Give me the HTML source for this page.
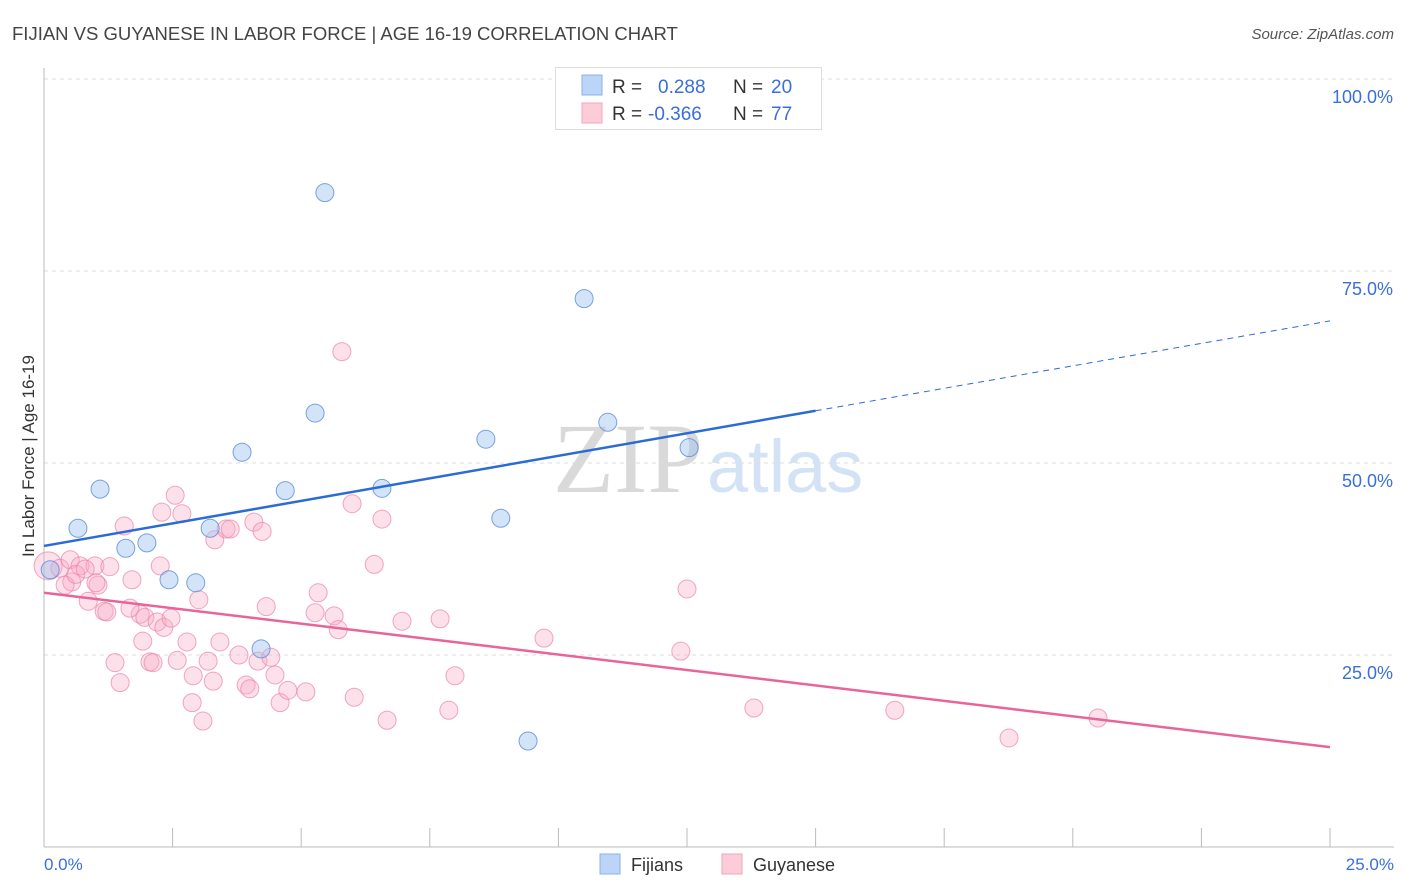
<!DOCTYPE html>
<html><head><meta charset="utf-8">
<style>
body{margin:0;background:#fff;font-family:"Liberation Sans",sans-serif;}
svg{display:block}
</style></head>
<body>
<svg id="chart" width="1406" height="892" xmlns="http://www.w3.org/2000/svg">
<text x="12" y="40" font-size="18.5" fill="#444">FIJIAN VS GUYANESE IN LABOR FORCE | AGE 16-19 CORRELATION CHART</text>
<text x="1394" y="39" font-size="15" font-style="italic" fill="#555" text-anchor="end">Source: ZipAtlas.com</text>
<text x="553" y="492" font-size="100" fill="#ddd" font-family="Liberation Serif,serif"><tspan fill="#d9d9d9">ZIP</tspan><tspan fill="#d3e2f5" font-family="Liberation Sans,sans-serif" font-size="74" dx="4">atlas</tspan></text>
<g id="grid"></g>
<g id="axes"></g>
<g id="marks"></g>
<text transform="translate(34,456) rotate(-90)" font-size="17" fill="#333" text-anchor="middle">In Labor Force | Age 16-19</text>
<text x="44" y="870" font-size="17" fill="#3a6fd8">0.0%</text>
<text x="1394" y="870" font-size="17" fill="#3a6fd8" text-anchor="end">25.0%</text>
<g>
<rect x="555.5" y="67.5" width="266" height="62" fill="#fff" stroke="#ddd"/>
<rect x="582" y="75" width="20" height="20" fill="#bcd4f6" stroke="#8ab0ea"/>
<rect x="582" y="103" width="20" height="20" fill="#fcccd9" stroke="#f2a5bc"/>
<text x="612" y="93" font-size="19" fill="#333">R = </text><text x="658" y="93" font-size="19" fill="#3a6fd8">0.288</text>
<text x="733" y="93" font-size="19" fill="#333">N = </text><text x="771" y="93" font-size="19" fill="#3a6fd8">20</text>
<text x="612" y="120" font-size="19" fill="#333">R = </text><text x="648" y="120" font-size="19" fill="#3a6fd8">-0.366</text>
<text x="733" y="120" font-size="19" fill="#333">N = </text><text x="771" y="120" font-size="19" fill="#3a6fd8">77</text>
</g>
<g>
<rect x="600" y="854" width="20" height="20" fill="#bcd4f6" stroke="#8ab0ea"/>
<text x="631" y="871" font-size="18" fill="#333">Fijians</text>
<rect x="722" y="854" width="20" height="20" fill="#fcccd9" stroke="#f2a5bc"/>
<text x="753" y="871" font-size="18" fill="#333">Guyanese</text>
</g>
</svg>
<script>
const yTicks=[25,50,75,100];
const yTickLabels=["25.0%","50.0%","75.0%","100.0%"];
const fijX=[0.12,0.66,1.09,1.59,2.0,2.43,2.95,3.23,3.85,4.22,4.69,5.27,5.46,6.57,8.59,8.88,9.41,10.5,10.96,12.54];
const fijY=[36.1,41.5,46.6,38.9,39.6,34.8,34.4,41.5,51.4,25.8,46.4,56.5,85.2,46.7,53.1,42.8,13.8,71.4,55.3,52.0];
const guyX=[0.08,0.31,0.51,0.54,0.70,0.99,0.41,1.05,0.86,1.17,1.22,1.56,1.71,1.87,1.67,1.96,1.92,2.2,2.33,2.47,1.38,1.48,2.06,2.12,2.55,2.29,2.68,2.78,2.59,2.9,3.01,2.88,3.09,3.19,3.29,3.32,3.42,3.54,3.62,4.08,4.24,3.79,3.93,4.0,4.16,4.32,4.41,4.49,4.59,4.74,5.09,5.33,5.27,5.64,5.72,5.79,5.99,6.03,6.57,6.42,6.67,6.96,7.70,7.87,7.99,9.72,12.38,12.5,13.8,16.54,18.76,20.49,2.26,1.28,1.01,0.62,0.8];
const guyY=[36.6,36.3,37.4,34.5,36.6,36.6,34.1,34.1,32.0,30.7,30.6,41.8,34.8,30.3,31.1,29.9,26.8,29.3,28.6,29.8,24.0,21.4,24.1,24.0,45.8,43.6,43.4,26.7,24.3,22.3,32.2,18.8,16.4,24.2,21.6,40.0,26.7,41.4,41.4,42.3,41.1,25.0,21.1,20.6,24.2,31.3,24.7,22.4,18.8,20.4,20.2,33.1,30.5,30.1,28.3,64.5,44.7,19.5,42.7,36.8,16.5,29.4,29.7,17.8,22.3,27.2,25.5,33.6,18.1,17.8,14.2,16.8,36.6,36.5,34.4,35.5,36.2];
const fijTrend=[[0,39.2],[15,56.8],[25,68.5]];
const guyTrend=[[0,33.1],[25,13.0]];
const NS="http://www.w3.org/2000/svg";
const X=v=>44+v*(1286/25);
const Y=v=>847-v*7.68;
function mk(tag,attrs,parent){const e=document.createElementNS(NS,tag);for(const k in attrs)e.setAttribute(k,attrs[k]);document.getElementById(parent).appendChild(e);return e;}
yTicks.forEach((t,i)=>{
 const g=mk('line',{x1:44,x2:1394,y1:Y(t),y2:Y(t),stroke:'#ddd','stroke-dasharray':'4,4'},'grid');
 
 
 const l=mk('text',{x:1393,y:Y(t)+24,'font-size':18,fill:'#3a6fd8','text-anchor':'end'},'grid');
 l.textContent=yTickLabels[i];
 
 
});
const ay=mk('line',{x1:44,x2:44,y1:68,y2:847,stroke:'#bbb'},'axes');


const ax=mk('line',{x1:44,x2:1394,y1:847,y2:847,stroke:'#bbb'},'axes');


for(let i=0;i<=10;i++){
 const t=mk('line',{x1:X(i*2.5),x2:X(i*2.5),y1:828,y2:847,stroke:'#bbb'},'axes');
 
 
}
guyX.forEach((x,i)=>{
 const c=mk('circle',{cx:X(x),cy:Y(guyY[i]),r:i===0?14:9,fill:'rgba(248,170,195,0.35)',stroke:'rgba(235,130,165,0.7)','stroke-width':1},'marks');
 
 
});
fijX.forEach((x,i)=>{
 const c=mk('circle',{cx:X(x),cy:Y(fijY[i]),r:9,fill:'rgba(160,195,240,0.45)',stroke:'rgba(90,140,215,0.8)','stroke-width':1},'marks');
 
 
});
const f1=mk('line',{x1:X(fijTrend[0][0]),y1:Y(fijTrend[0][1]),x2:X(fijTrend[1][0]),y2:Y(fijTrend[1][1]),stroke:'#2a6bd6','stroke-width':2.5},'marks');


const f2=mk('line',{x1:X(fijTrend[1][0]),y1:Y(fijTrend[1][1]),x2:X(fijTrend[2][0]),y2:Y(fijTrend[2][1]),stroke:'#2a6bd6','stroke-width':1,'stroke-dasharray':'6,5'},'marks');


const g1=mk('line',{x1:X(guyTrend[0][0]),y1:Y(guyTrend[0][1]),x2:X(guyTrend[1][0]),y2:Y(guyTrend[1][1]),stroke:'#e8649a','stroke-width':2.5},'marks');


</script>
</body></html>
